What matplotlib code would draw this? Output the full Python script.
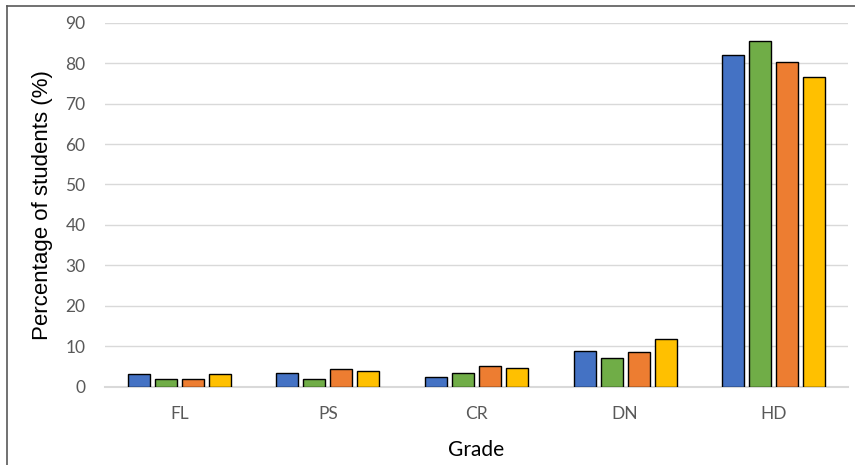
import numpy as np
import matplotlib.pyplot as plt
from matplotlib.lines import Line2D

grades = ['FL', 'PS', 'CR', 'DN', 'HD']
series_a = [3.1, 3.4, 2.5, 8.9, 82.1]
series_b = [1.9, 2.0, 3.4, 7.0, 85.5]
series_c = [1.9, 4.3, 5.2, 8.5, 80.4]
series_d = [3.1, 3.9, 4.7, 11.7, 76.6]
colors = ['#4472C4', '#70AD47', '#ED7D31', '#FFC000']

fig = plt.figure(figsize=(8.55, 4.65), dpi=100)
ax = fig.add_axes([105 / 855, 1 - 386.7 / 465, 743 / 855, (386.7 - 22.7) / 465])

x = np.arange(len(grades))
width = 0.148
step = 0.182
for i, (vals, c) in enumerate(zip([series_a, series_b, series_c, series_d], colors)):
    ax.bar(x + (i - 1.5) * step, vals, width, color=c, edgecolor='black',
           linewidth=1.0, zorder=3)

ax.set_xlim(-0.5, 4.5)
ax.set_ylim(0, 90)
ax.set_yticks(range(0, 91, 10))
ax.set_xticks(x)
ax.set_xticklabels(grades)
ax.grid(axis='y', color='#d9d9d9', linewidth=1.0, zorder=0)
for s in ['top', 'right', 'left']:
    ax.spines[s].set_visible(False)
ax.spines['bottom'].set_color('#d9d9d9')
ax.spines['bottom'].set_linewidth(1.5)
ax.tick_params(axis='both', length=0, labelsize=12.5, labelcolor='#595959')
ax.tick_params(axis='y', pad=14)
ax.tick_params(axis='x', pad=14)
for lab in ax.get_xticklabels() + ax.get_yticklabels():
    lab.set_family('Lato')

ax.set_xlabel('Grade', fontsize=15, family='Lato', color='black', labelpad=13)
ax.set_ylabel('Percentage of students (%)', fontsize=16, family='Liberation Sans',
              color='black', labelpad=9)

# outer frame (left and top only visible)
fig.add_artist(Line2D([7 / 855, 7 / 855], [0, 1 - 6 / 465], color='#595959', linewidth=1.2))
fig.add_artist(Line2D([7 / 855, 1], [1 - 6 / 465, 1 - 6 / 465], color='#595959', linewidth=1.2))

fig.savefig('out.png', dpi=100)
